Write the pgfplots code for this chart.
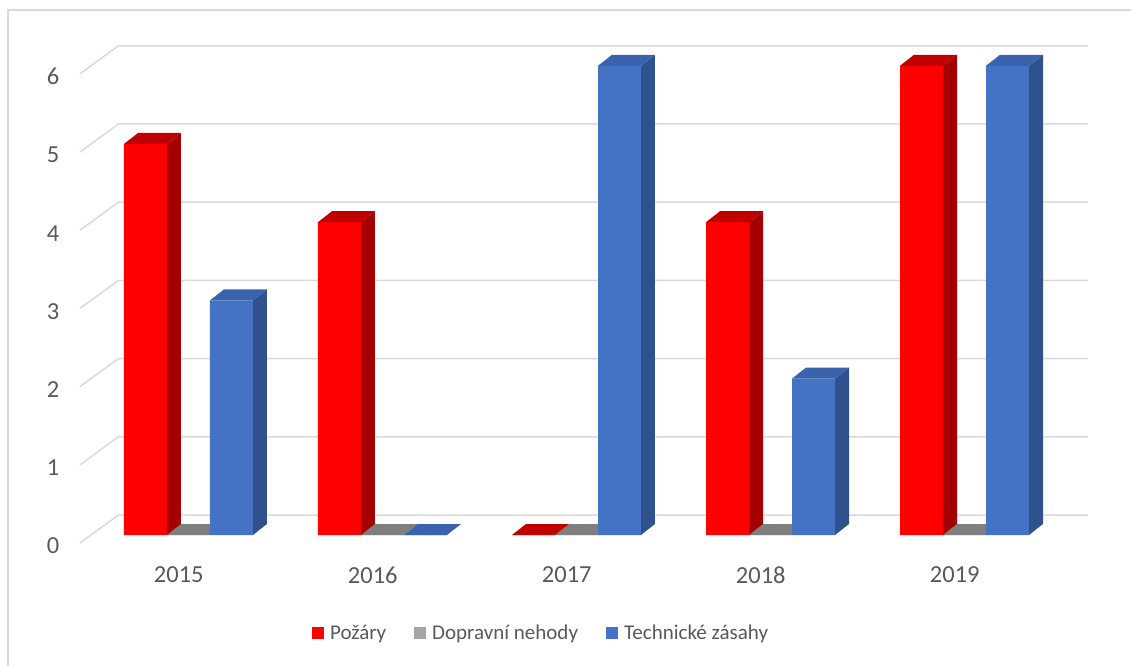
\documentclass[border=0pt]{standalone}
\usepackage{fontspec}
\setmainfont{Carlito}
\usepackage{pgfplots}
\pgfplotsset{compat=1.18}
\definecolor{redF}{HTML}{FF0000}
\definecolor{redS}{HTML}{A50000}
\definecolor{redT}{HTML}{C00000}
\definecolor{bluF}{HTML}{4472C4}
\definecolor{bluS}{HTML}{2F528F}
\definecolor{bluT}{HTML}{3A63AD}
\definecolor{grayF}{HTML}{A5A5A5}
\definecolor{grayT}{HTML}{7F7F7F}
\definecolor{gridc}{HTML}{D9D9D9}
\definecolor{txt}{HTML}{595959}
\begin{document}
\begin{tikzpicture}
\begin{axis}[
  x=194pt, y=78.2pt,
  xmin=-0.5593, xmax=4.6366, ymin=-0.1023, ymax=6.2532,
  clip=false,
  axis line style={draw=none},
  major tick length=0pt,
  xtick={-0.05,0.95,1.95,2.95,3.95},
  xticklabels={2015,2016,2017,2018,2019},
  ytick={-0.1023,0.8977,1.8977,2.8977,3.8977,4.8977,5.8977},
  yticklabels={0,1,2,3,4,5,6},
  /pgf/number format/assume math mode=true,
  xticklabel style={anchor=center, yshift=-32pt, font=\fontsize{24.5}{28}\selectfont, text=txt},
  yticklabel style={anchor=center, xshift=-27pt, yshift=-3pt, font=\fontsize{24.5}{28}\selectfont, text=txt},
  legend style={at={(0.4574,-0.1811)}, anchor=center, draw=none, fill=none,
    font=\fontsize{21}{25}\selectfont, text=txt, legend columns=3,
    /tikz/every odd column/.append style={column sep=4pt},
    /tikz/every even column/.append style={column sep=26pt}},
  face/.style={forget plot, draw=none},
]
% back wall gridlines
\addplot[gridc, line width=1.5pt, forget plot] coordinates {(-0.5593,-0.1023) (-0.3608,0.2558) (4.6366,0.2558)};
\addplot[gridc, line width=1.5pt, forget plot] coordinates {(-0.5593,0.8977) (-0.3608,1.2558) (4.6366,1.2558)};
\addplot[gridc, line width=1.5pt, forget plot] coordinates {(-0.5593,1.8977) (-0.3608,2.2558) (4.6366,2.2558)};
\addplot[gridc, line width=1.5pt, forget plot] coordinates {(-0.5593,2.8977) (-0.3608,3.2558) (4.6366,3.2558)};
\addplot[gridc, line width=1.5pt, forget plot] coordinates {(-0.5593,3.8977) (-0.3608,4.2558) (4.6366,4.2558)};
\addplot[gridc, line width=1.5pt, forget plot] coordinates {(-0.5593,4.8977) (-0.3608,5.2558) (4.6366,5.2558)};
\addplot[gridc, line width=1.5pt, forget plot] coordinates {(-0.5593,5.8977) (-0.3608,6.2558) (4.6366,6.2558)};
% chart border (left and top)
\addplot[gridc, line width=1.2pt, forget plot] coordinates {(-0.9304,-1.6752) (-0.9304,6.7136) (4.8582,6.7136)};
% gray (zero) top faces
\addplot[face, fill=grayT] coordinates {(-0.1108,0)(0.1108,0)(0.1830,0.1407)(-0.0387,0.1407)} -- cycle;
\addplot[face, fill=grayT] coordinates {(0.8892,0)(1.1108,0)(1.1830,0.1407)(0.9613,0.1407)} -- cycle;
\addplot[face, fill=grayT] coordinates {(1.8892,0)(2.1108,0)(2.1830,0.1407)(1.9613,0.1407)} -- cycle;
\addplot[face, fill=grayT] coordinates {(2.8892,0)(3.1108,0)(3.1830,0.1407)(2.9613,0.1407)} -- cycle;
\addplot[face, fill=grayT] coordinates {(3.8892,0)(4.1108,0)(4.1830,0.1407)(3.9613,0.1407)} -- cycle;
% front faces (legend entries)
\addplot[ybar, bar width=43pt, bar shift=-43pt, fill=redF, draw=none,
  legend image code/.code={\fill[redF] (0pt,-6pt) rectangle (12pt,6pt);}]
  coordinates {(0,5) (1,4) (2,0) (3,4) (4,6)};
\addlegendentry{Požáry}
\addplot[ybar, bar width=43pt, bar shift=0pt, fill=grayF, draw=none,
  legend image code/.code={\fill[grayF] (0pt,-6pt) rectangle (12pt,6pt);}]
  coordinates {(0,0) (1,0) (2,0) (3,0) (4,0)};
\addlegendentry{Dopravní nehody}
\addplot[ybar, bar width=43pt, bar shift=43pt, fill=bluF, draw=none,
  legend image code/.code={\fill[bluF] (0pt,-6pt) rectangle (12pt,6pt);}]
  coordinates {(0,3) (1,0) (2,6) (3,2) (4,6)};
\addlegendentry{Technické zásahy}
% red side faces
\addplot[face, fill=redS] coordinates {(-0.1108,0)(-0.0387,0.1407)(-0.0387,5.1407)(-0.1108,5)} -- cycle;
\addplot[face, fill=redS] coordinates {(0.8892,0)(0.9613,0.1407)(0.9613,4.1407)(0.8892,4)} -- cycle;
\addplot[face, fill=redS] coordinates {(2.8892,0)(2.9613,0.1407)(2.9613,4.1407)(2.8892,4)} -- cycle;
\addplot[face, fill=redS] coordinates {(3.8892,0)(3.9613,0.1407)(3.9613,6.1407)(3.8892,6)} -- cycle;
% red top faces
\addplot[face, fill=redT] coordinates {(-0.3325,5)(-0.1108,5)(-0.0387,5.1407)(-0.2604,5.1407)} -- cycle;
\addplot[face, fill=redT] coordinates {(0.6675,4)(0.8892,4)(0.9613,4.1407)(0.7396,4.1407)} -- cycle;
\addplot[face, fill=redT] coordinates {(1.6675,0)(1.8892,0)(1.9613,0.1407)(1.7396,0.1407)} -- cycle;
\addplot[face, fill=redT] coordinates {(2.6675,4)(2.8892,4)(2.9613,4.1407)(2.7396,4.1407)} -- cycle;
\addplot[face, fill=redT] coordinates {(3.6675,6)(3.8892,6)(3.9613,6.1407)(3.7396,6.1407)} -- cycle;
% blue side faces
\addplot[face, fill=bluS] coordinates {(0.3325,0)(0.4046,0.1407)(0.4046,3.1407)(0.3325,3)} -- cycle;
\addplot[face, fill=bluS] coordinates {(2.3325,0)(2.4046,0.1407)(2.4046,6.1407)(2.3325,6)} -- cycle;
\addplot[face, fill=bluS] coordinates {(3.3325,0)(3.4046,0.1407)(3.4046,2.1407)(3.3325,2)} -- cycle;
\addplot[face, fill=bluS] coordinates {(4.3325,0)(4.4046,0.1407)(4.4046,6.1407)(4.3325,6)} -- cycle;
% blue top faces
\addplot[face, fill=bluT] coordinates {(0.1108,3)(0.3325,3)(0.4046,3.1407)(0.1830,3.1407)} -- cycle;
\addplot[face, fill=bluT] coordinates {(1.1108,0)(1.3325,0)(1.4046,0.1407)(1.1830,0.1407)} -- cycle;
\addplot[face, fill=bluT] coordinates {(2.1108,6)(2.3325,6)(2.4046,6.1407)(2.1830,6.1407)} -- cycle;
\addplot[face, fill=bluT] coordinates {(3.1108,2)(3.3325,2)(3.4046,2.1407)(3.1830,2.1407)} -- cycle;
\addplot[face, fill=bluT] coordinates {(4.1108,6)(4.3325,6)(4.4046,6.1407)(4.1830,6.1407)} -- cycle;
\coordinate (BL) at (axis cs:-0.9716,-1.6752);
\coordinate (TR) at (axis cs:4.8582,6.8414);
\end{axis}
\pgfresetboundingbox
\path[use as bounding box] (BL) rectangle (TR);
\end{tikzpicture}
\end{document}
